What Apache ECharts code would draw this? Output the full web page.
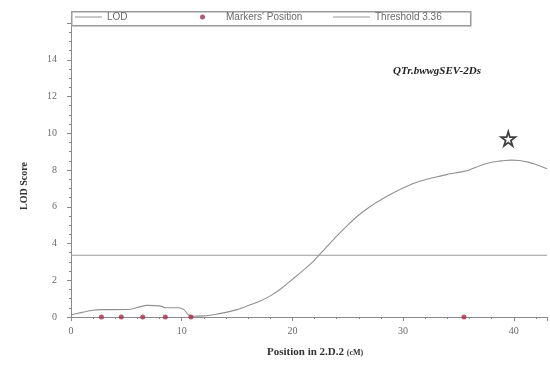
<!DOCTYPE html>
<html>
<head>
<meta charset="utf-8">
<script src="https://cdn.jsdelivr.net/npm/echarts@6/dist/echarts.min.js"></script>
<style>
  html, body { margin: 0; padding: 0; background: #fff; }
  #chart { width: 550px; height: 366px; }
</style>
</head>
<body>
<div id="chart"></div>
<script>
// LOD profile along linkage group 2.D.2
const positions = [0, 1, 2, 2.7, 4, 5.4, 6.2, 6.9, 7.6, 8.2, 8.5, 9.0, 9.7, 10.2, 10.6, 11.0,
  12, 13, 14, 15, 16, 17, 18, 19, 20, 21, 22, 23, 24, 25, 26, 27, 28, 29, 30, 31, 32, 33, 34,
  35, 35.6, 36, 37, 38, 38.6, 39, 39.8, 40.5, 41.3, 42, 43];
const lodScores = [0.12, 0.25, 0.37, 0.40, 0.40, 0.42, 0.55, 0.63, 0.62, 0.58, 0.50, 0.50, 0.50, 0.40, 0.12, 0.04,
  0.06, 0.14, 0.25, 0.40, 0.62, 0.85, 1.15, 1.55, 2.05, 2.55, 3.1, 3.75, 4.4, 5.0, 5.55, 6.0, 6.38, 6.72, 7.02, 7.28, 7.47, 7.62, 7.76,
  7.87, 7.94, 8.0, 8.25, 8.42, 8.48, 8.5, 8.54, 8.52, 8.43, 8.3, 8.07];

// Marker positions (cM)
const markerPositions = [2.75, 4.54, 6.48, 8.52, 10.83, 35.5];

const threshold = 3.36;
const peak = [39.5, 9.7];
const qtlName = 'QTr.bwwgSEV-2Ds';

const xTicks = [0, 10, 20, 30, 40];
const yTicks = [0, 2, 4, 6, 8, 10, 12, 14];

const lodData = positions.map((p, i) => [p, lodScores[i]]);
const markerData = markerPositions.map(p => [p, 0]);
const thresholdData = [[0, threshold], [43, threshold]];

const serif = '"Liberation Serif", "DejaVu Serif", serif';
const sans = '"Liberation Sans", Arial, sans-serif';
const axisGray = '#8a8a8a';

const chart = echarts.init(document.getElementById('chart'), null, { renderer: 'canvas' });

const legendText = { color: '#6a6a6a', fontFamily: sans, fontSize: 10 };

chart.setOption({
  animation: false,
  backgroundColor: '#fff',
  grid: { left: 71, right: 0, top: 23, bottom: 49, containLabel: false },
  legend: [
    { data: ['LOD'], left: 75, top: 12, icon: 'rect', itemWidth: 27, itemHeight: 1, itemGap: 0, textStyle: legendText, padding: 0, z: 5 },
    { data: ["Markers' Position"], left: 200, top: 12, icon: 'circle', itemWidth: 37, itemHeight: 5, textStyle: legendText, padding: 0, z: 5 },
    { data: ['Threshold 3.36'], left: 333, top: 12, icon: 'rect', itemWidth: 37, itemHeight: 1, textStyle: legendText, padding: 0, z: 5 }
  ],
  xAxis: {
    type: 'value', min: 0, max: 43, interval: 10,
    axisLine: { onZero: false, lineStyle: { color: axisGray } },
    axisTick: { show: true, length: 4, lineStyle: { color: axisGray } },
    minorTick: { show: true, splitNumber: 5, length: 2, lineStyle: { color: axisGray } },
    splitLine: { show: false },
    axisLabel: {
      color: '#6a6a6a', fontFamily: serif, fontSize: 10, margin: 9,
      formatter: v => (xTicks.includes(v) ? String(v) : '')
    }
  },
  yAxis: {
    type: 'value', min: 0, max: 16, interval: 2,
    axisLine: { show: true, lineStyle: { color: axisGray } },
    axisTick: { show: true, length: 4, lineStyle: { color: axisGray } },
    minorTick: { show: true, splitNumber: 4, length: 2, lineStyle: { color: axisGray } },
    splitLine: { show: false },
    axisLabel: {
      color: '#6a6a6a', fontFamily: serif, fontSize: 10, margin: 14,
      formatter: v => (yTicks.includes(v) ? String(v) : '')
    }
  },
  series: [
    {
      name: 'LOD', type: 'line', data: lodData, showSymbol: false, smooth: 0.25,
      lineStyle: { color: '#919191', width: 1.1 }, itemStyle: { color: '#919191' }, z: 3
    },
    {
      name: "Markers' Position", type: 'scatter', data: markerData, symbol: 'circle', symbolSize: 5,
      itemStyle: { color: '#a3304a' }, z: 5
    },
    {
      name: 'Threshold 3.36', type: 'line', data: thresholdData, showSymbol: false,
      lineStyle: { color: '#9a9a9a', width: 1.2 }, itemStyle: { color: '#9a9a9a' }, z: 2
    },
    {
      name: 'peak', type: 'scatter', data: [peak],
      symbol: 'path://M50,0 L61,35 L98,35 L68,57 L79,91 L50,70 L21,91 L32,57 L2,35 L39,35 Z',
      symbolSize: 14,
      itemStyle: { color: '#ffffff', borderColor: '#111', borderWidth: 1.8 }, z: 6
    }
  ],
  graphic: [
    {
      // legend frame, drawn over the top end of the value axis
      type: 'rect', left: 71, top: 11, z: 1,
      shape: { width: 399, height: 14 },
      style: { fill: '#fff', stroke: '#9a9a9a', lineWidth: 1.5 }
    },
    {
      type: 'text', left: 393, top: 66,
      style: { text: qtlName, font: 'italic bold 11px ' + serif, fill: '#222' }
    },
    {
      type: 'text', x: 24, y: 186, rotation: Math.PI / 2,
      style: { text: 'LOD Score', font: 'bold 10px ' + serif, fill: '#333', align: 'center', verticalAlign: 'middle' }
    },
    {
      type: 'text', left: 267, top: 347,
      style: {
        text: '{a|Position in 2.D.2 }{b|(cM)}',
        rich: {
          a: { font: 'bold 11px ' + serif, fill: '#333' },
          b: { font: 'bold 8px ' + serif, fill: '#333' }
        }
      }
    }
  ]
});
</script>
</body>
</html>
